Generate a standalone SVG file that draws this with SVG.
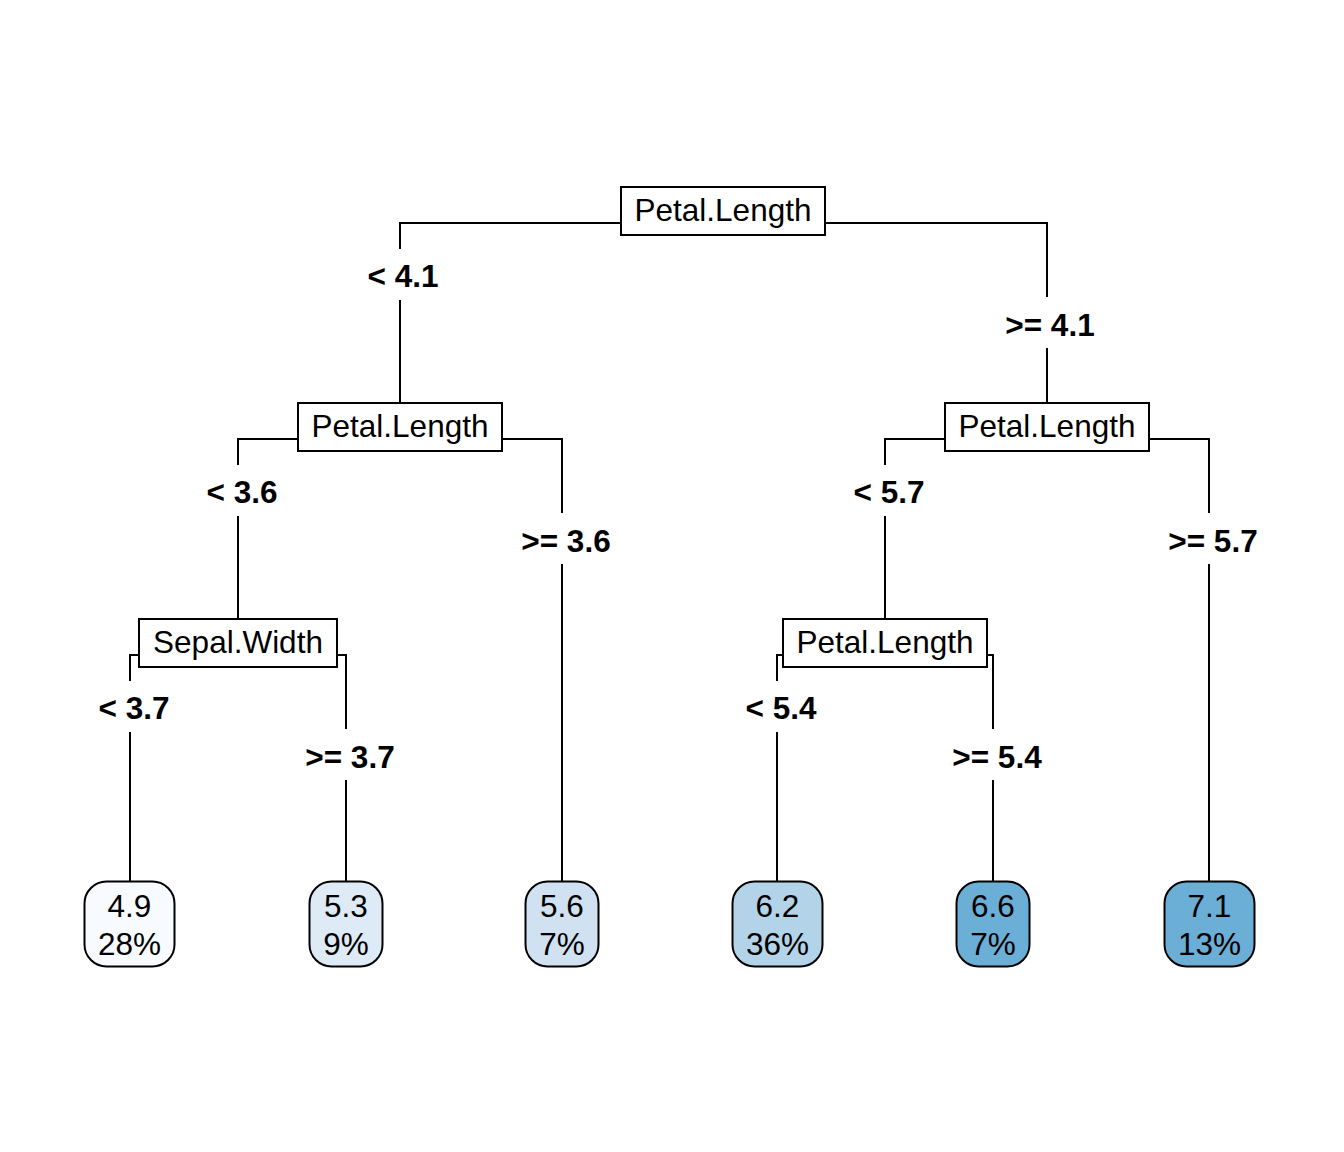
<svg xmlns="http://www.w3.org/2000/svg" width="1344" height="1152" viewBox="0 0 1344 1152">
<style>
.bg{fill:#ffffff}
.split rect{fill:#ffffff;stroke:#000000;stroke-width:2}
.split text{font-family:"Liberation Sans",Arial,sans-serif;font-size:31.5px;fill:#000000;text-anchor:middle}
.leaf rect{stroke:#000000;stroke-width:2}
.leaf text{font-family:"Liberation Sans",Arial,sans-serif;font-size:31.5px;fill:#000000;text-anchor:middle}
#connectors path{fill:none;stroke:#000000;stroke-width:2}
.lbl{font-family:"Liberation Sans",Arial,sans-serif;font-size:31.5px;font-weight:bold;fill:#000000;text-anchor:middle}
</style>
<rect class="bg" x="0" y="0" width="1344" height="1152"/>
<g id="connectors">
<path d="M621,223 H400 V249 M400,300 V403"/>
<path d="M825,223 H1047 V297 M1047,348 V403"/>
<path d="M298,439 H238 V465 M238,516 V619"/>
<path d="M502,439 H562 V513 M562,564 V881"/>
<path d="M945,439 H885 V465 M885,516 V619"/>
<path d="M1149,439 H1209 V513 M1209,564 V881"/>
<path d="M139,655 H130 V681 M130,732 V881"/>
<path d="M337,655 H346 V729 M346,780 V881"/>
<path d="M783,655 H777 V681 M777,732 V881"/>
<path d="M987,655 H993 V729 M993,780 V881"/>
<text class="lbl" x="403" y="287">&lt; 4.1</text>
<text class="lbl" x="1050" y="336">&gt;= 4.1</text>
<text class="lbl" x="242" y="503">&lt; 3.6</text>
<text class="lbl" x="566" y="552">&gt;= 3.6</text>
<text class="lbl" x="889" y="503">&lt; 5.7</text>
<text class="lbl" x="1213" y="552">&gt;= 5.7</text>
<text class="lbl" x="134" y="719">&lt; 3.7</text>
<text class="lbl" x="350" y="768">&gt;= 3.7</text>
<text class="lbl" x="781" y="719">&lt; 5.4</text>
<text class="lbl" x="997" y="768">&gt;= 5.4</text>
</g>
<g id="n1" class="split"><rect x="621" y="187" width="204" height="48"/><text x="723" y="221">Petal.Length</text></g>
<g id="n2" class="split"><rect x="298" y="403" width="204" height="48"/><text x="400" y="437">Petal.Length</text></g>
<g id="n3" class="split"><rect x="945" y="403" width="204" height="48"/><text x="1047" y="437">Petal.Length</text></g>
<g id="n4" class="split"><rect x="139" y="619" width="198" height="48"/><text x="238" y="653">Sepal.Width</text></g>
<g id="n6" class="split"><rect x="783" y="619" width="204" height="48"/><text x="885" y="653">Petal.Length</text></g>
<g id="leaf1" class="leaf"><rect x="84.5" y="881.5" width="90" height="85" rx="22" fill="#F7FBFF"/><text x="129.5" y="917">4.9</text><text x="129.5" y="955">28%</text></g>
<g id="leaf2" class="leaf"><rect x="309.5" y="881.5" width="73" height="85" rx="22" fill="#DEEBF7"/><text x="346" y="917">5.3</text><text x="346" y="955">9%</text></g>
<g id="leaf3" class="leaf"><rect x="525.5" y="881.5" width="73" height="85" rx="22" fill="#D0E1F2"/><text x="562" y="917">5.6</text><text x="562" y="955">7%</text></g>
<g id="leaf4" class="leaf"><rect x="732.5" y="881.5" width="90" height="85" rx="22" fill="#B3D3E8"/><text x="777.5" y="917">6.2</text><text x="777.5" y="955">36%</text></g>
<g id="leaf5" class="leaf"><rect x="956.5" y="881.5" width="73" height="85" rx="22" fill="#6BAED6"/><text x="993" y="917">6.6</text><text x="993" y="955">7%</text></g>
<g id="leaf6" class="leaf"><rect x="1164.5" y="881.5" width="90" height="85" rx="22" fill="#6BAED6"/><text x="1209.5" y="917">7.1</text><text x="1209.5" y="955">13%</text></g>
</svg>
